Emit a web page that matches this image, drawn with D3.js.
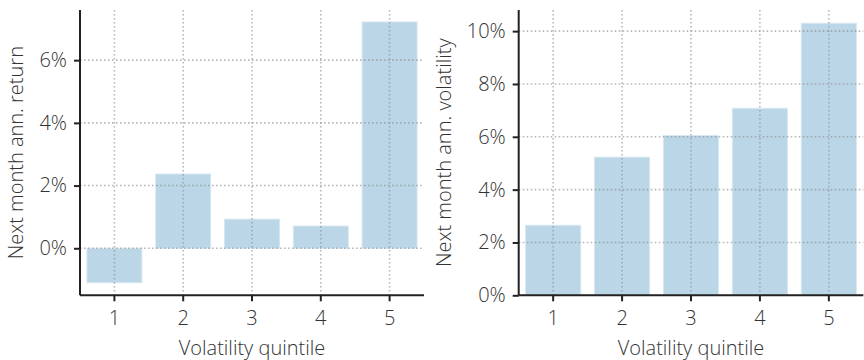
<!DOCTYPE html>
<html>
<head>
<meta charset="utf-8">
<script src="https://cdn.jsdelivr.net/npm/d3@7"></script>
<style>
  body { margin: 0; background: #fff; }
  svg text { font-family: "Open Sans", Roboto, sans-serif; font-weight: 300; fill: #333; }
</style>
</head>
<body>
<script>
// Data
const quintiles = ["1", "2", "3", "4", "5"];
const nextReturn = [-0.0110, 0.0237, 0.0093, 0.0071, 0.0722];
const nextVolatility = [0.0265, 0.0523, 0.0605, 0.0708, 0.1030];
const returnTicks = [0, 0.02, 0.04, 0.06];
const volTicks = [0, 0.02, 0.04, 0.06, 0.08, 0.10];

const width = 864, height = 360;
const fontSize = 20;

const svg = d3.select("body")
    .append("svg")
    .attr("width", width)
    .attr("height", height);

function drawPanel(opts) {
    const { left, right, top, bottom, values, domain, ticks, yLabel, labelOffset } = opts;

    const g = svg.append("g");

    const x = d3.scaleBand()
        .domain(quintiles)
        .range([left, right])
        .paddingInner(0.2)
        .paddingOuter(0.1);

    const y = d3.scaleLinear()
        .domain(domain)
        .range([bottom, top]);

    // Bars
    g.selectAll("rect.bar")
        .data(values)
        .join("rect")
        .attr("class", "bar")
        .attr("x", (d, i) => x(quintiles[i]))
        .attr("width", x.bandwidth())
        .attr("y", d => y(Math.max(0, d)))
        .attr("height", d => Math.abs(y(d) - y(0)))
        .attr("fill", "#bad6e7")
        .attr("stroke", "#d8e8f2")
        .attr("stroke-width", 1);

    // Dotted grid on top of the bars
    const grid = g.append("g")
        .attr("stroke", "#8a8a8a")
        .attr("stroke-opacity", 0.6)
        .attr("stroke-width", 1.6)
        .attr("stroke-dasharray", "1.6,2.4");
    grid.selectAll("line.h")
        .data(ticks)
        .join("line")
        .attr("class", "h")
        .attr("x1", left)
        .attr("x2", right)
        .attr("y1", d => y(d))
        .attr("y2", d => y(d));
    grid.selectAll("line.v")
        .data(quintiles)
        .join("line")
        .attr("class", "v")
        .attr("x1", d => x(d) + x.bandwidth() / 2)
        .attr("x2", d => x(d) + x.bandwidth() / 2)
        .attr("y1", top)
        .attr("y2", bottom);

    // Axes
    const yAxis = g.append("g")
        .attr("transform", `translate(${left},0)`)
        .call(d3.axisLeft(y).tickValues(ticks).tickFormat(d3.format(".0%")).tickSize(6).tickPadding(7));
    const xAxis = g.append("g")
        .attr("transform", `translate(0,${bottom})`)
        .call(d3.axisBottom(x).tickSize(6).tickPadding(10));

    [yAxis, xAxis].forEach(ax => {
        ax.select(".domain").attr("stroke", "#222").attr("stroke-width", 2);
        ax.selectAll(".tick line").attr("stroke", "#222").attr("stroke-width", 2);
        ax.selectAll(".tick text").attr("font-size", fontSize).attr("fill", "#333");
    });
    // plain axis lines, no end caps
    yAxis.select(".domain").attr("d", `M0,${top}V${bottom}`);
    xAxis.select(".domain").attr("d", `M${left},0H${right}`);

    // Axis titles
    g.append("text")
        .attr("x", (left + right) / 2)
        .attr("y", 355)
        .attr("text-anchor", "middle")
        .attr("font-size", fontSize)
        .text("Volatility quintile");
    g.append("text")
        .attr("transform", `translate(${left - labelOffset},${(top + bottom) / 2}) rotate(-90)`)
        .attr("text-anchor", "middle")
        .attr("font-size", fontSize)
        .text(yLabel);
}

drawPanel({
    left: 80, right: 424, top: 10, bottom: 295.3,
    values: nextReturn, domain: [-0.015, 0.076], ticks: returnTicks,
    yLabel: "Next month ann. return", labelOffset: 57
});

drawPanel({
    left: 518.7, right: 863.3, top: 10, bottom: 295.3,
    values: nextVolatility, domain: [0, 0.108], ticks: volTicks,
    yLabel: "Next month ann. volatility", labelOffset: 67.5
});
</script>
</body>
</html>
